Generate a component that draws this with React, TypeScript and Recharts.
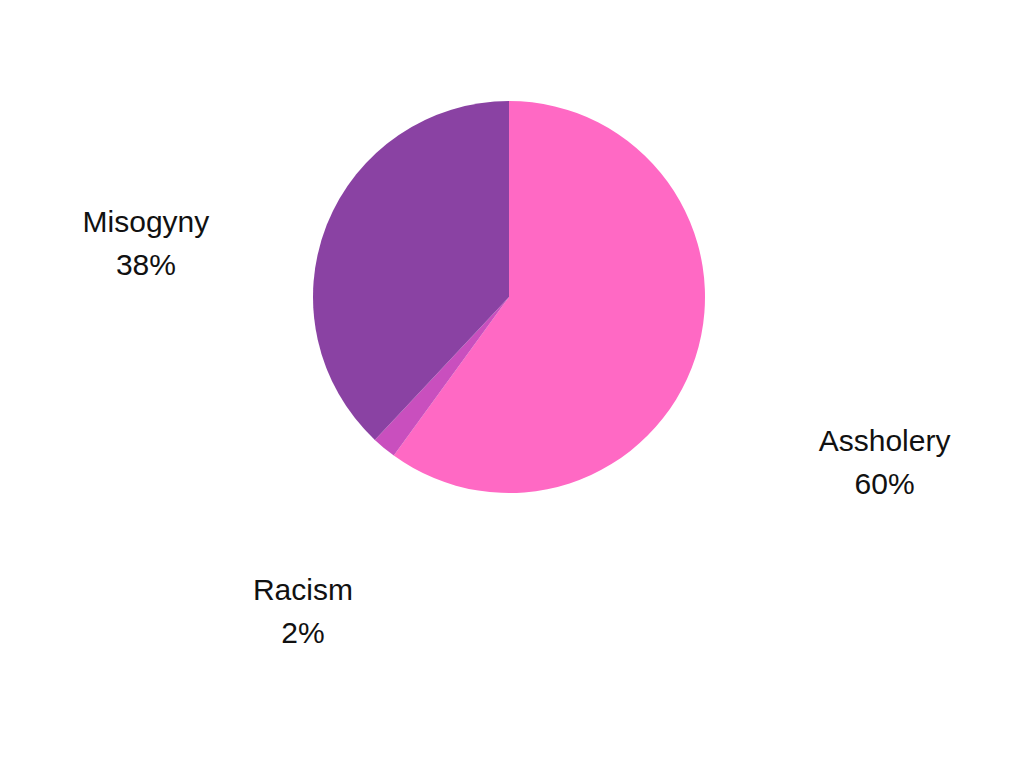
import { PieChart, Pie, Cell } from "recharts";

const categories = ["Assholery", "Racism", "Misogyny"];
const shares = [60, 2, 38];
const colors = ["#FF69C4", "#C94FBE", "#8A42A3"];

const data = categories.map((name, i) => ({ name, value: shares[i] }));

const RADIAN = Math.PI / 180;

// labels sit out from the slice's middle angle, pushed sideways and a bit below the centre
function renderLabel(props: any) {
  const { cx, cy, midAngle, outerRadius, name, value } = props;
  const cos = Math.cos(-midAngle * RADIAN);
  const sin = Math.sin(-midAngle * RADIAN);
  const x = cx + outerRadius * 2.066 * Math.sign(cos) * Math.pow(Math.abs(cos), 1.5);
  const y = cy + outerRadius * 0.33 + outerRadius * 1.65 * sin;
  return (
    <text
      x={x}
      y={y}
      textAnchor="middle"
      fill="#111"
      fontFamily="'Liberation Sans', Arial, sans-serif"
      fontSize={30}
    >
      <tspan x={x} dy={-11}>
        {name}
      </tspan>
      <tspan x={x} dy={43}>
        {value}%
      </tspan>
    </text>
  );
}

export default function App() {
  return (
    <div style={{ position: "absolute", left: 0, top: 0, background: "#fff" }}>
      <PieChart width={1024} height={768}>
        <Pie
          data={data}
          dataKey="value"
          nameKey="name"
          cx={504}
          cy={292}
          outerRadius={196}
          startAngle={90}
          endAngle={-270}
          stroke="none"
          label={renderLabel}
          labelLine={false}
          isAnimationActive={false}
        >
          {data.map((d, i) => (
            <Cell key={d.name} fill={colors[i]} />
          ))}
        </Pie>
      </PieChart>
    </div>
  );
}
